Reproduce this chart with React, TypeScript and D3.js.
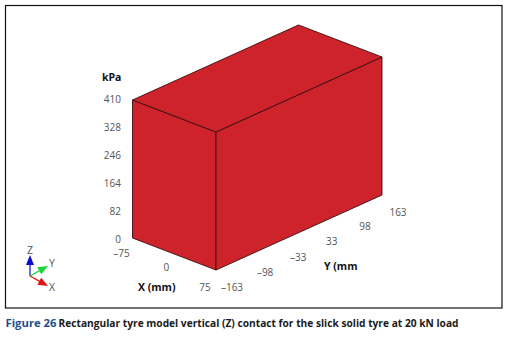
import React from 'react';
import * as d3 from 'd3';

const xExtent = [-75, 75];
const yExtent = [-163, 163];
const zExtent = [0, 410];
const contactPressure = 410;

const xTicks = [-75, 0, 75];
const yTicks = [-163, -98, -33, 33, 98, 163];
const zTicks = [0, 82, 164, 246, 328, 410];

const triadAxes = [
  { name: 'Z', color: '#0b0bd6', tip: [0, -21], label: [0, -26] },
  { name: 'Y', color: '#19d43a', tip: [18, -10], label: [22, -13] },
  { name: 'X', color: '#e01414', tip: [18, 10], label: [22, 11] },
];

const fmt = (v: number) => String(v).replace('-', '\u2013');
const uiFont = '"Open Sans", "Noto Sans", sans-serif';

// oblique projection, each model axis gets its own pair of pixel scales
const xToPx = d3.scaleLinear().domain(xExtent).range([0, 83.5]);
const xToPy = d3.scaleLinear().domain(xExtent).range([0, 32]);
const yToPx = d3.scaleLinear().domain(yExtent).range([0, 166]);
const yToPy = d3.scaleLinear().domain(yExtent).range([0, -75]);
const zToPy = d3.scaleLinear().domain(zExtent).range([238, 100]);
// the z labels run a touch wider than the box edge
const zLabelY = d3.scaleLinear().domain(zExtent).range([242.5, 102.5]);

const project = (x: number, y: number, z: number): [number, number] => [
  132.5 + xToPx(x) + yToPx(y),
  zToPy(z) + xToPy(x) + yToPy(y),
];

const path = d3.line();

const xLabelDy = (t: number) => (t === 75 ? 21 : t === 0 ? 17 : 18.5);

export default function App() {
  const [x0, x1] = xExtent;
  const [y0, y1] = yExtent;
  const p = contactPressure;
  const faces = [
    [project(x0, y0, 0), project(x1, y0, 0), project(x1, y0, p), project(x0, y0, p)],
    [project(x1, y0, 0), project(x1, y1, 0), project(x1, y1, p), project(x1, y0, p)],
    [project(x0, y0, p), project(x1, y0, p), project(x1, y1, p), project(x0, y1, p)],
  ];

  return (
    <svg width={520} height={343} style={{ position: 'absolute', left: 0, top: 0, background: '#fff' }}>
      <rect x={5.5} y={5.5} width={496.5} height={302.5} fill="none" stroke="#111" strokeWidth={1.2} />

      {faces.map((f, i) => (
        <path key={i} d={path(f) + 'Z'} fill="#cf232b" stroke="#3a0d10" strokeWidth={0.9} strokeLinejoin="round" />
      ))}

      <g fontFamily={uiFont} fontSize={10} fill="#555">
        {zTicks.map(t => (
          <text key={t} x={121} y={zLabelY(t)} textAnchor="end">{t}</text>
        ))}
        {xTicks.map(t => {
          const base = project(t, y0, 0);
          return (
            <text key={t} x={base[0] - (t === 0 ? 8 : 11)} y={base[1] + xLabelDy(t)} textAnchor="middle">{fmt(t)}</text>
          );
        })}
        {yTicks.map(t => {
          const base = project(x1, t, 0);
          return (
            <text key={t} x={base[0] + 16} y={base[1] + 20.5} textAnchor="middle">{fmt(t)}</text>
          );
        })}
      </g>

      <g fontFamily={uiFont} fontSize={10.5} fontWeight={700} fill="#111">
        <text x={102} y={81}>kPa</text>
        <text x={138} y={291}>X (mm)</text>
        <text x={324} y={270}>Y (mm</text>
      </g>

      <g transform="translate(30,276)" fontFamily={uiFont} fontSize={10.5} fill="#555">
        {triadAxes.map(a => {
          const [tx, ty] = a.tip;
          const len = Math.hypot(tx, ty);
          const ux = tx / len;
          const uy = ty / len;
          const neck = len - 10;
          const cone = d3.line()([
            [tx, ty],
            [ux * neck - uy * 4, uy * neck + ux * 4],
            [ux * neck + uy * 4, uy * neck - ux * 4],
          ]);
          return (
            <g key={a.name}>
              <line x1={0} y1={0} x2={ux * neck} y2={uy * neck} stroke={a.color} strokeWidth={1.2} />
              <path d={cone + 'Z'} fill={a.color} />
              <text x={a.label[0]} y={a.label[1] + 3.5} textAnchor="middle">{a.name}</text>
            </g>
          );
        })}
      </g>

      <text y={326.5} fontFamily={uiFont} fontSize={11} fontWeight={700}>
        <tspan x={5.5} fill="#1d4f91" textLength={51} lengthAdjust="spacingAndGlyphs">Figure 26</tspan>
        <tspan x={58.5} fill="#1a1a1a" textLength={400} lengthAdjust="spacingAndGlyphs">Rectangular tyre model vertical (Z) contact for the slick solid tyre at 20 kN load</tspan>
      </text>
    </svg>
  );
}
